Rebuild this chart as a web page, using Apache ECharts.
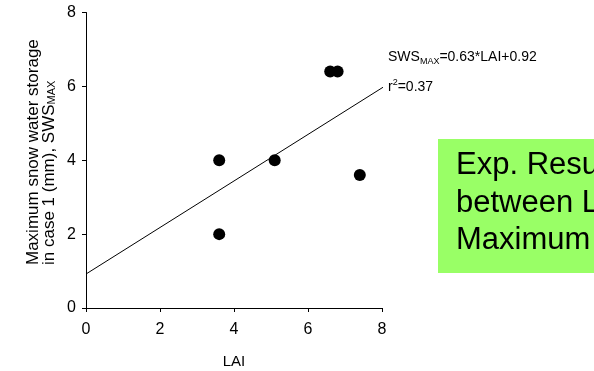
<!DOCTYPE html>
<html>
<head>
<meta charset="utf-8">
<script src="https://cdn.jsdelivr.net/npm/echarts@6/dist/echarts.min.js"></script>
<style>html,body{margin:0;padding:0;background:#fff;}#c{width:594px;height:371px;}</style>
</head>
<body>
<div id="c"></div>
<script>
const laiValues = [3.6, 3.6, 5.1, 6.6, 6.8, 7.4];
const swsValues = [4.0, 2.0, 4.0, 6.4, 6.4, 3.6];
const fitX = [0, 8.05];
const fitY = [0.92, 5.99];
const xTicks = [0, 2, 4, 6, 8];
const yTicks = [0, 2, 4, 6, 8];

const chart = echarts.init(document.getElementById('c'));
const font = 'Arial, "Liberation Sans", sans-serif';
const axisCommon = {
  axisLine: {show: true, onZero: false, lineStyle: {color: '#000', width: 1}},
  axisTick: {show: true, inside: false, length: 4, lineStyle: {color: '#000'}},
  splitLine: {show: false}
};
chart.setOption({
  animation: false,
  backgroundColor: '#fff',
  grid: {left: 86, right: 212, top: 12.5, bottom: 63, containLabel: false, outerBoundsMode: 'none'},
  xAxis: Object.assign({
    type: 'value', min: xTicks[0], max: xTicks[xTicks.length-1], interval: 2,
    name: 'LAI', nameLocation: 'middle', nameGap: 46,
    nameTextStyle: {color: '#000', fontSize: 15, fontFamily: font}
  }, axisCommon, {axisLabel: {color: '#000', fontSize: 16, fontFamily: font, margin: 14}}),
  yAxis: Object.assign({
    type: 'value', min: yTicks[0], max: yTicks[yTicks.length-1], interval: 2
  }, axisCommon, {axisLabel: {color: '#000', fontSize: 16, fontFamily: font, margin: 10}}),
  series: [
    {
      type: 'line', data: fitX.map((x, i) => [x, fitY[i]]), symbol: 'none', clip: false,
      lineStyle: {color: '#000', width: 1}, silent: true
    },
    {
      type: 'scatter', data: laiValues.map((x, i) => [x, swsValues[i]]), symbolSize: 12,
      itemStyle: {color: '#000', opacity: 1}
    }
  ],
  graphic: [
    {
      type: 'text', x: 41, y: 265, rotation: Math.PI / 2,
      style: {
        text: 'Maximum snow water storage\nin case 1 (mm), SWS{sub|MAX}',
        font: '17px ' + font, fill: '#000', lineHeight: 16, align: 'left', verticalAlign: 'middle',
        rich: {sub: {fontSize: 11, verticalAlign: 'bottom', fontFamily: font, fill: '#000', padding: [6,0,0,0]}}
      }
    },
    {
      type: 'text', x: 388, y: 57,
      style: {
        text: 'SWS{sub|MAX}=0.63*LAI+0.92',
        font: '14px ' + font, fill: '#000', lineHeight: 18, verticalAlign: 'middle',
        rich: {
          sub: {fontSize: 9, verticalAlign: 'bottom', fill: '#000', fontFamily: font, lineHeight: 18}
        }
      }
    },
    {
      type: 'text', x: 388, y: 87,
      style: {
        text: 'r{sup|2}=0.37',
        font: '14px ' + font, fill: '#000', lineHeight: 18, verticalAlign: 'middle',
        rich: {
          sup: {fontSize: 9, verticalAlign: 'top', fill: '#000', fontFamily: font, lineHeight: 18}
        }
      }
    },
    {
      type: 'rect', shape: {x: 438, y: 139, width: 200, height: 134},
      style: {fill: '#99FF66'}
    },
    {
      type: 'text', x: 456, y: 147,
      style: {text: 'Exp. Results\nbetween LAI and\nMaximum SWS', font: '31px ' + font, fill: '#000', lineHeight: 37.5}
    }
  ]
});
</script>
</body>
</html>
